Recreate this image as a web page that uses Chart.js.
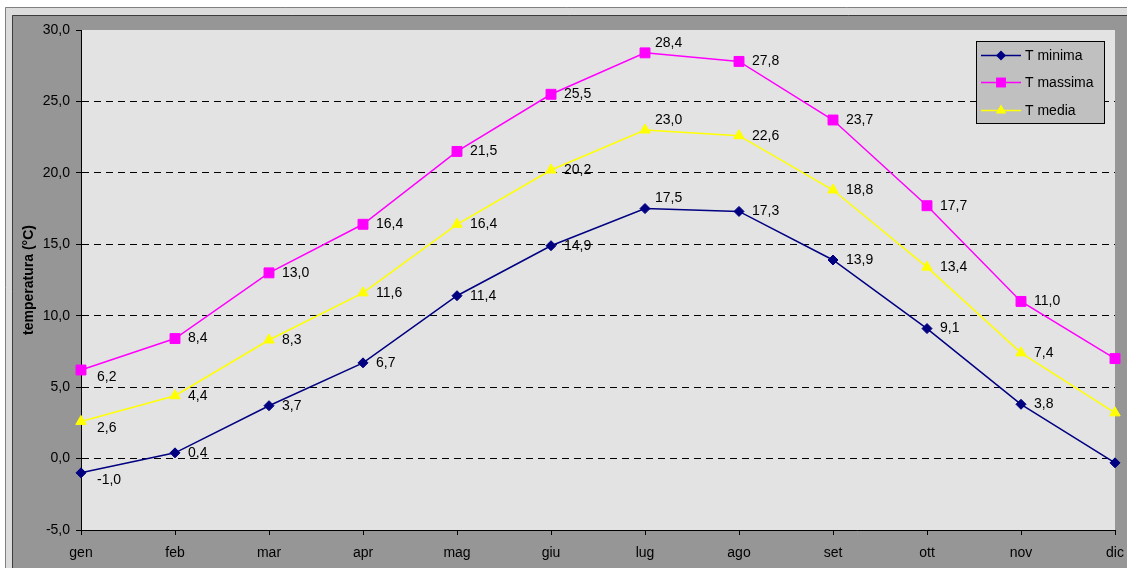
<!DOCTYPE html>
<html>
<head>
<meta charset="utf-8">
<script src="https://cdn.jsdelivr.net/npm/chart.js@4/dist/chart.umd.min.js"></script>
<style>
  html, body { margin: 0; padding: 0; background: #fff; }
  #wrap { width: 1127px; height: 568px; }
</style>
</head>
<body>
<div id="wrap"><canvas id="c" width="1127" height="568"></canvas></div>
<script>
// Monthly temperatures (°C)
const months = ['gen', 'feb', 'mar', 'apr', 'mag', 'giu', 'lug', 'ago', 'set', 'ott', 'nov', 'dic'];
const tMinima  = [-1.0, 0.4, 3.7, 6.7, 11.4, 14.9, 17.5, 17.3, 13.9, 9.1, 3.8, -0.3];
const tMassima = [6.2, 8.4, 13.0, 16.4, 21.5, 25.5, 28.4, 27.8, 23.7, 17.7, 11.0, 7.0];
const tMedia   = [2.6, 4.4, 8.3, 11.6, 16.4, 20.2, 23.0, 22.6, 18.8, 13.4, 7.4, 3.2];
const yTicks   = [-5, 0, 5, 10, 15, 20, 25, 30];

const FONT = '"Liberation Sans", Arial, sans-serif';
const fmt = v => v.toFixed(1).replace('.', ',');

// panel backgrounds: outer frame, grey chart area, light plot area
const backgroundPlugin = {
  id: 'panels',
  beforeDraw(chart) {
    const { ctx, width, height, chartArea: a } = chart;
    ctx.save();
    ctx.fillStyle = '#ffffff';
    ctx.fillRect(0, 0, width, height);
    ctx.fillStyle = '#dcdcdc';
    ctx.fillRect(5, 7, width - 5, height - 7);
    ctx.strokeStyle = '#808080';
    ctx.lineWidth = 1;
    ctx.beginPath();
    ctx.moveTo(5.5, height); ctx.lineTo(5.5, 7.5); ctx.lineTo(width, 7.5);
    ctx.stroke();
    ctx.fillStyle = '#969696';
    ctx.fillRect(12, 15, width - 12, height - 15);
    ctx.strokeStyle = '#3c3c3c';
    ctx.beginPath();
    ctx.moveTo(12.5, height); ctx.lineTo(12.5, 15.5); ctx.lineTo(width, 15.5);
    ctx.stroke();
    ctx.fillStyle = '#e3e3e3';
    ctx.fillRect(a.left, a.top, a.right - a.left, a.bottom - a.top);
    ctx.restore();
  }
};

// value labels beside each point (the December points carry none)
const valueLabelPlugin = {
  id: 'valueLabels',
  afterDatasetsDraw(chart) {
    const { ctx } = chart;
    ctx.save();
    ctx.font = '14px ' + FONT;
    ctx.fillStyle = '#000';
    ctx.textAlign = 'left';
    ctx.textBaseline = 'middle';
    chart.data.datasets.forEach((ds, di) => {
      const meta = chart.getDatasetMeta(di);
      meta.data.forEach((pt, i) => {
        if (i === ds.data.length - 1) return;
        let dx = 13, dy = 0;
        if (i === 0) { dx = 16; dy = 7; }
        if (i === 6) { dx = 10; dy = -10; }
        ctx.fillText(fmt(ds.data[i]), pt.x + dx, pt.y + dy);
      });
    });
    ctx.restore();
  }
};

function drawMarker(ctx, style, x, y, r, color) {
  ctx.fillStyle = color;
  ctx.strokeStyle = color;
  ctx.beginPath();
  if (style === 'rectRot') {
    ctx.moveTo(x - r, y); ctx.lineTo(x, y - r); ctx.lineTo(x + r, y); ctx.lineTo(x, y + r);
  } else if (style === 'rect') {
    const s = r * Math.SQRT1_2;
    ctx.rect(x - s, y - s, 2 * s, 2 * s);
  } else {
    const h = r * 0.866;
    ctx.moveTo(x, y - r); ctx.lineTo(x + h, y + r / 2); ctx.lineTo(x - h, y + r / 2);
  }
  ctx.closePath();
  ctx.fill();
}

// boxed legend in the upper right corner of the plot
const legendBoxPlugin = {
  id: 'legendBox',
  afterDraw(chart) {
    const { ctx } = chart;
    const x0 = 976, y0 = 41, w = 128, h = 82;
    ctx.save();
    ctx.fillStyle = '#c0c0c0';
    ctx.fillRect(x0, y0, w, h);
    ctx.strokeStyle = '#000';
    ctx.lineWidth = 1;
    ctx.strokeRect(x0 + 0.5, y0 + 0.5, w, h);
    const rows = [55, 82, 110];
    chart.data.datasets.forEach((ds, i) => {
      const y = rows[i];
      ctx.strokeStyle = ds.borderColor;
      ctx.lineWidth = 1.5;
      ctx.beginPath();
      ctx.moveTo(981, y + 0.5); ctx.lineTo(1021, y + 0.5);
      ctx.stroke();
      drawMarker(ctx, ds.pointStyle, 1001, y + 0.5, ds.pointRadius, ds.backgroundColor);
      ctx.fillStyle = '#000';
      ctx.font = '14px ' + FONT;
      ctx.textAlign = 'left';
      ctx.textBaseline = 'middle';
      ctx.fillText(ds.label, 1025, y + 1);
    });
    ctx.restore();
  }
};

new Chart(document.getElementById('c'), {
  type: 'line',
  data: {
    labels: months,
    datasets: [
      { label: 'T minima', data: tMinima, borderColor: '#000080', backgroundColor: '#000080',
        pointStyle: 'rectRot', pointRadius: 5, pointBorderWidth: 1, borderWidth: 1.5, tension: 0 },
      { label: 'T massima', data: tMassima, borderColor: '#ff00ff', backgroundColor: '#ff00ff',
        pointStyle: 'rect', pointRadius: 7, pointBorderWidth: 1, borderWidth: 1.5, tension: 0 },
      { label: 'T media', data: tMedia, borderColor: '#ffff00', backgroundColor: '#ffff00',
        pointStyle: 'triangle', pointRadius: 6, pointBorderWidth: 1, borderWidth: 1.5, tension: 0 }
    ]
  },
  options: {
    responsive: false,
    animation: false,
    devicePixelRatio: 1,
    layout: { padding: { top: 30, right: 12, left: 0, bottom: 0 } },
    plugins: { legend: { display: false }, tooltip: { enabled: false } },
    scales: {
      x: {
        offset: false,
        afterFit: s => { s.height = 38; s.paddingLeft = 0; s.paddingRight = 0; },
        grid: { drawOnChartArea: false, drawTicks: true, tickLength: 5, tickColor: '#000', offset: false },
        border: { display: true, color: '#000', width: 1 },
        ticks: { color: '#000', font: { family: FONT, size: 14 }, padding: 10, maxRotation: 0, autoSkip: false }
      },
      y: {
        min: -5, max: 30,
        afterFit: s => { s.width = 81; s.paddingTop = 0; s.paddingBottom = 0; },
        afterBuildTicks: s => { s.ticks = yTicks.map(v => ({ value: v })); },
        grid: {
          color: c => (c.tick && c.tick.value === 30) ? 'rgba(0,0,0,0)' : '#000',
          lineWidth: 1, tickLength: 5, tickColor: '#000'
        },
        border: { display: true, color: '#000', width: 1, dash: [7, 5] },
        ticks: { color: '#000', font: { family: FONT, size: 14 }, padding: 6, callback: v => fmt(v) },
        title: { display: true, text: 'temperatura (°C)', color: '#000',
                 font: { family: FONT, size: 14, weight: 'bold' }, padding: { top: 21, bottom: 0 } }
      }
    }
  },
  plugins: [backgroundPlugin, valueLabelPlugin, legendBoxPlugin]
});
</script>
</body>
</html>
